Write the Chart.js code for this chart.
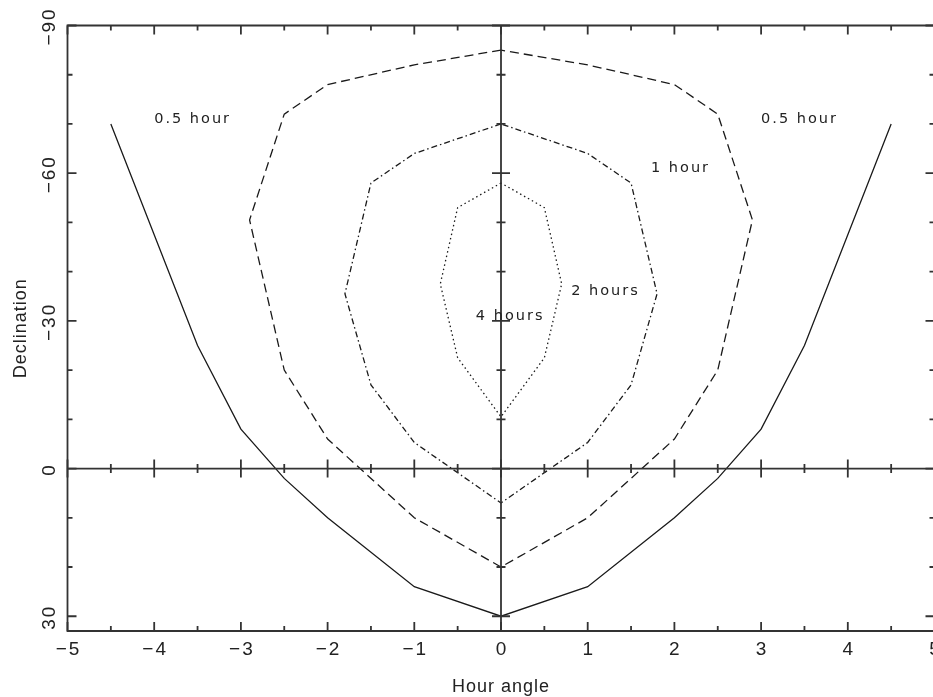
<!DOCTYPE html>
<html><head><meta charset="utf-8">
<script src="https://cdn.jsdelivr.net/npm/chart.js@4"></script>
<style>html,body{margin:0;padding:0;overflow:hidden;background:#fff}</style>
</head><body>
<canvas id="c" width="940" height="697"></canvas>
<script>
// ---- tick labels ----
const xTicks = [-5, -4, -3, -2, -1, 0, 1, 2, 3, 4, 5];
const xMinorTicks = [-4.5, -3.5, -2.5, -1.5, -0.5, 0.5, 1.5, 2.5, 3.5, 4.5];
const yTicks = [-90, -60, -30, 0, 30];
const yMinorTicks = [-80, -70, -50, -40, -20, -10, 10, 20];
const xTitle = "Hour angle";
const yTitle = "Declination";

// ---- series (hour angle, declination) ----
const solidHA  = [-4.5, -3.5, -3, -2.5, -2, -1, 0, 1, 2, 2.5, 3, 3.5, 4.5];
const solidDec = [-70, -25, -8, 2, 10, 24, 30, 24, 10, 2, -8, -25, -70];

const dashedHA  = [0, -1, -2, -2.5, -2.9, -2.5, -2, -1, 0, 1, 2, 2.5, 2.9, 2.5, 2, 1, 0];
const dashedDec = [-85, -82, -78, -72, -50.5, -20, -6, 10, 20, 10, -6, -20, -50.5, -72, -78, -82, -85];

const dashDotHA  = [0, -1, -1.5, -1.8, -1.5, -1, 0, 1, 1.5, 1.8, 1.5, 1, 0];
const dashDotDec = [-70, -64, -58, -35.5, -17, -5.3, 7, -5.3, -17, -35.5, -58, -64, -70];

const dottedHA  = [0, -0.5, -0.7, -0.5, 0, 0.5, 0.7, 0.5, 0];
const dottedDec = [-58, -53, -37.5, -22.5, -10.5, -22.5, -37.5, -53, -58];

// ---- annotations (text, hour angle, declination) ----
const noteText = ["0.5 hour", "0.5 hour", "1 hour", "2 hours", "4 hours"];
const noteHA   = [-4.0, 3.0, 1.73, 0.81, -0.29];
const noteDec  = [-71, -71, -61, -36, -31];

const pts = (xs, ys) => xs.map((v, i) => ({x: v, y: ys[i]}));
const fmt = v => (v < 0 ? "\u2212" + Math.abs(v) : String(v));

const LINE = '#1a1a1a';
const AX = '#333333';

const axesPlugin = {
  id: 'pgaxes',
  afterDatasetsDraw(chart) {
    const {ctx, chartArea: a, scales: {x, y}} = chart;
    ctx.save();
    ctx.strokeStyle = AX; ctx.lineWidth = 1.8; ctx.lineCap = 'butt'; ctx.setLineDash([]);
    ctx.beginPath();
    ctx.rect(a.left, a.top, a.right - a.left, a.bottom - a.top);
    ctx.stroke();
    const x0 = x.getPixelForValue(0), y0 = y.getPixelForValue(0);
    ctx.beginPath();
    ctx.moveTo(x0, a.top); ctx.lineTo(x0, a.bottom);
    ctx.moveTo(a.left, y0); ctx.lineTo(a.right, y0);
    ctx.stroke();
    const seg = (x1, y1, x2, y2) => { ctx.moveTo(x1, y1); ctx.lineTo(x2, y2); };
    const MAJ = 9, MIN = 5;
    ctx.beginPath();
    xTicks.forEach(v => { const p = x.getPixelForValue(v);
      seg(p, a.bottom, p, a.bottom - MAJ); seg(p, a.top, p, a.top + MAJ); seg(p, y0 - MAJ, p, y0 + MAJ); });
    xMinorTicks.forEach(v => { const p = x.getPixelForValue(v);
      seg(p, a.bottom, p, a.bottom - MIN); seg(p, a.top, p, a.top + MIN); seg(p, y0 - 4.5, p, y0 + 4.5); });
    yTicks.forEach(v => { const p = y.getPixelForValue(v);
      seg(a.left, p, a.left + MAJ, p); seg(a.right, p, a.right - MAJ, p); seg(x0 - MAJ, p, x0 + MAJ, p); });
    yMinorTicks.forEach(v => { const p = y.getPixelForValue(v);
      seg(a.left, p, a.left + MIN, p); seg(a.right, p, a.right - MIN, p); seg(x0 - 4.5, p, x0 + 4.5, p); });
    ctx.stroke();

    // tick labels
    ctx.fillStyle = '#222';
    ctx.font = '19px "Liberation Sans", Arial, sans-serif';
    ctx.letterSpacing = '2px';
    ctx.textAlign = 'center'; ctx.textBaseline = 'alphabetic';
    xTicks.forEach(v => ctx.fillText(fmt(v), x.getPixelForValue(v) + 1, a.bottom + 24));
    yTicks.forEach(v => {
      ctx.save();
      ctx.translate(a.left - 12.5, y.getPixelForValue(v) + 1);
      ctx.rotate(-Math.PI / 2);
      ctx.fillText(fmt(v), 0, 0);
      ctx.restore();
    });
    // axis titles
    ctx.font = '18px "Liberation Sans", Arial, sans-serif';
    ctx.letterSpacing = '1px';
    ctx.fillText(xTitle, (a.left + a.right) / 2, 692);
    ctx.save();
    ctx.translate(25.5, (a.top + a.bottom) / 2);
    ctx.rotate(-Math.PI / 2);
    ctx.fillText(yTitle, 0, 0);
    ctx.restore();

    // annotations
    ctx.font = '14.5px "DejaVu Sans", sans-serif';
    ctx.letterSpacing = '2px';
    ctx.textAlign = 'left'; ctx.textBaseline = 'middle';
    noteText.forEach((t, i) => ctx.fillText(t, x.getPixelForValue(noteHA[i]), y.getPixelForValue(noteDec[i])));
    ctx.restore();
  }
};

const ds = (label, data, dash) => ({
  label, data, showLine: true, fill: false, tension: 0,
  borderColor: LINE, borderWidth: 1.3, borderDash: dash,
  pointRadius: 0, pointHoverRadius: 0
});

new Chart(document.getElementById('c'), {
  type: 'scatter',
  data: {
    datasets: [
      ds('0.5 hour', pts(solidHA, solidDec), []),
      ds('1 hour', pts(dashedHA, dashedDec), [9, 5]),
      ds('2 hours', pts(dashDotHA, dashDotDec), [6, 3, 1.5, 3]),
      ds('4 hours', pts(dottedHA, dottedDec), [1.5, 3])
    ]
  },
  options: {
    responsive: false,
    devicePixelRatio: 1,
    animation: false,
    layout: {padding: {top: 25.5, left: 0, right: 5.5, bottom: 0}},
    plugins: {legend: {display: false}, tooltip: {enabled: false}},
    scales: {
      x: {
        type: 'linear', min: -5, max: 5,
        grid: {display: false}, border: {display: false},
        ticks: {display: false},
        afterFit: s => { s.height = 66; }
      },
      y: {
        type: 'linear', min: -90, max: 33, reverse: true,
        grid: {display: false}, border: {display: false},
        ticks: {display: false},
        afterFit: s => { s.width = 67.5; }
      }
    }
  },
  plugins: [axesPlugin]
});
</script>
</body></html>
